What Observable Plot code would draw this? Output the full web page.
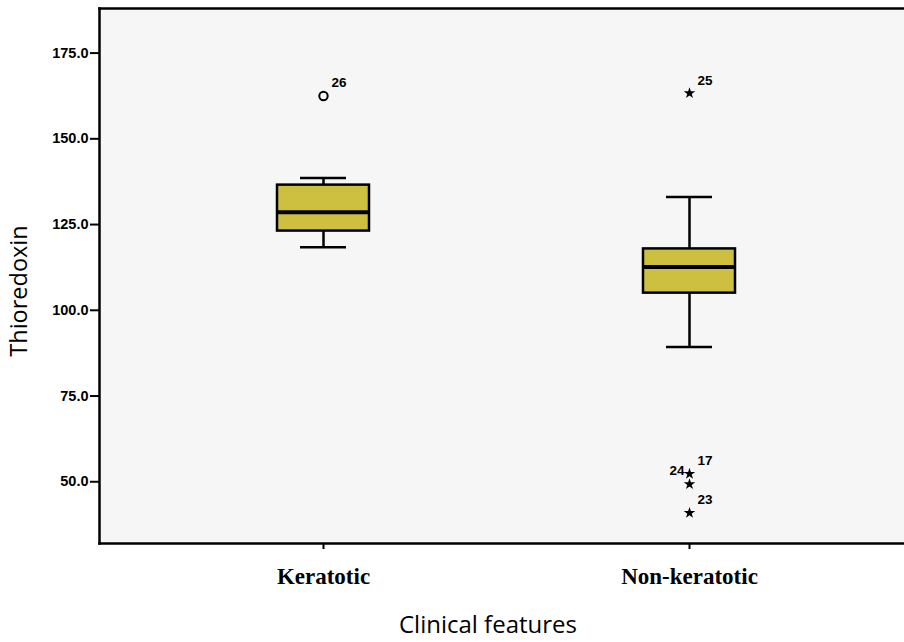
<!DOCTYPE html>
<html>
<head>
<meta charset="utf-8">
<script src="https://cdn.jsdelivr.net/npm/d3@7"></script>
<script src="https://cdn.jsdelivr.net/npm/@observablehq/plot@0.6"></script>
<style>
  html, body { margin: 0; padding: 0; background: #ffffff; }
  #chart svg { display: block; }
</style>
</head>
<body>
<div id="chart"></div>
<script>
// Data
const categories = ["Keratotic", "Non-keratotic"];
const whiskerLow  = [118.4, 89.3];
const q1          = [123.1, 105.0];
const median      = [128.6, 112.6];
const q3          = [136.5, 117.9];
const whiskerHigh = [138.6, 133.0];

const outlierGroup = ["Keratotic", "Non-keratotic", "Non-keratotic", "Non-keratotic", "Non-keratotic"];
const outlierValue = [162.5, 163.3, 52.3, 49.3, 40.9];
const outlierId    = ["26", "25", "17", "24", "23"];
const outlierKind  = ["circle", "star", "star", "star", "star"];
const labelSide    = ["right", "right", "right", "left", "right"];

const yTicks = [50, 75, 100, 125, 150, 175];

const boxes = categories.map((c, i) => ({
  group: c, lo: whiskerLow[i], q1: q1[i], med: median[i], q3: q3[i], hi: whiskerHigh[i]
}));
const outliers = outlierValue.map((v, i) => ({
  group: outlierGroup[i], value: v, id: outlierId[i], kind: outlierKind[i], side: labelSide[i]
}));

const chart = Plot.plot({
  width: 904,
  height: 642,
  marginLeft: 99,
  marginRight: 0,
  marginTop: 8,
  marginBottom: 99,
  style: { background: "#ffffff", color: "#000000" },
  x: {
    type: "band",
    domain: categories,
    range: [99, 913],
    paddingInner: 0.7486,
    paddingOuter: 0.4863,
    label: null
  },
  y: { domain: [32, 188], label: null },
  marks: [
    Plot.frame({ fill: "#f6f6f6", stroke: null }),
    Plot.frame({ anchor: "left", stroke: "#000", strokeWidth: 2.5 }),
    Plot.frame({ anchor: "top", stroke: "#000", strokeWidth: 2.5 }),
    Plot.frame({ anchor: "bottom", stroke: "#000", strokeWidth: 2.5 }),
    Plot.axisY(yTicks, {
      tickSize: 9,
      tickPadding: 2,
      tickFormat: (d) => d.toFixed(1),
      fontSize: 14.5,
      fontWeight: "bold",
      fontFamily: "Liberation Sans, Arial, sans-serif",
      strokeWidth: 2,
      label: null
    }),
    Plot.axisX({
      tickSize: 6,
      tickPadding: 18,
      fontSize: 23,
      fontWeight: "bold",
      fontFamily: "Liberation Serif, Times New Roman, serif",
      strokeWidth: 2,
      label: null
    }),
    // whiskers
    Plot.ruleX(boxes, { x: "group", y1: "lo", y2: "hi", stroke: "#000", strokeWidth: 2.5 }),
    Plot.tickY(boxes, { x: "group", y: "lo", stroke: "#000", strokeWidth: 2.5, inset: 23 }),
    Plot.tickY(boxes, { x: "group", y: "hi", stroke: "#000", strokeWidth: 2.5, inset: 23 }),
    // boxes
    Plot.barY(boxes, { x: "group", y1: "q1", y2: "q3", fill: "#cdbf40", stroke: "#000", strokeWidth: 2.5 }),
    Plot.tickY(boxes, { x: "group", y: "med", stroke: "#000", strokeWidth: 4 }),
    // outliers
    Plot.dot(outliers.filter(d => d.kind === "circle"), {
      x: "group", y: "value", symbol: "circle", r: 4.2, stroke: "#000", strokeWidth: 2, fill: "none"
    }),
    Plot.dot(outliers.filter(d => d.kind === "star"), {
      x: "group", y: "value", symbol: "star", r: 3.6, fill: "#000", stroke: "none"
    }),
    Plot.text(outliers.filter(d => d.side === "right"), {
      x: "group", y: "value", text: "id", dx: 8, dy: -13, textAnchor: "start",
      fontSize: 13.5, fontWeight: "bold", fontFamily: "Liberation Sans, Arial, sans-serif"
    }),
    Plot.text(outliers.filter(d => d.side === "left"), {
      x: "group", y: "value", text: "id", dx: -5, dy: -13, textAnchor: "end",
      fontSize: 13.5, fontWeight: "bold", fontFamily: "Liberation Sans, Arial, sans-serif"
    })
  ]
});

// Axis titles as real text inside the SVG
const svg = d3.select(chart);
svg.append("text")
  .attr("x", 488).attr("y", 633)
  .attr("text-anchor", "middle")
  .attr("font-family", "Open Sans, Noto Sans, sans-serif")
  .attr("font-size", 24)
  .attr("fill", "#000")
  .text("Clinical features");
svg.append("text")
  .attr("transform", "translate(27,291) rotate(-90)")
  .attr("text-anchor", "middle")
  .attr("font-family", "Open Sans, Noto Sans, sans-serif")
  .attr("font-size", 23.5)
  .attr("fill", "#000")
  .text("Thioredoxin");

document.getElementById("chart").appendChild(chart);
</script>
</body>
</html>
